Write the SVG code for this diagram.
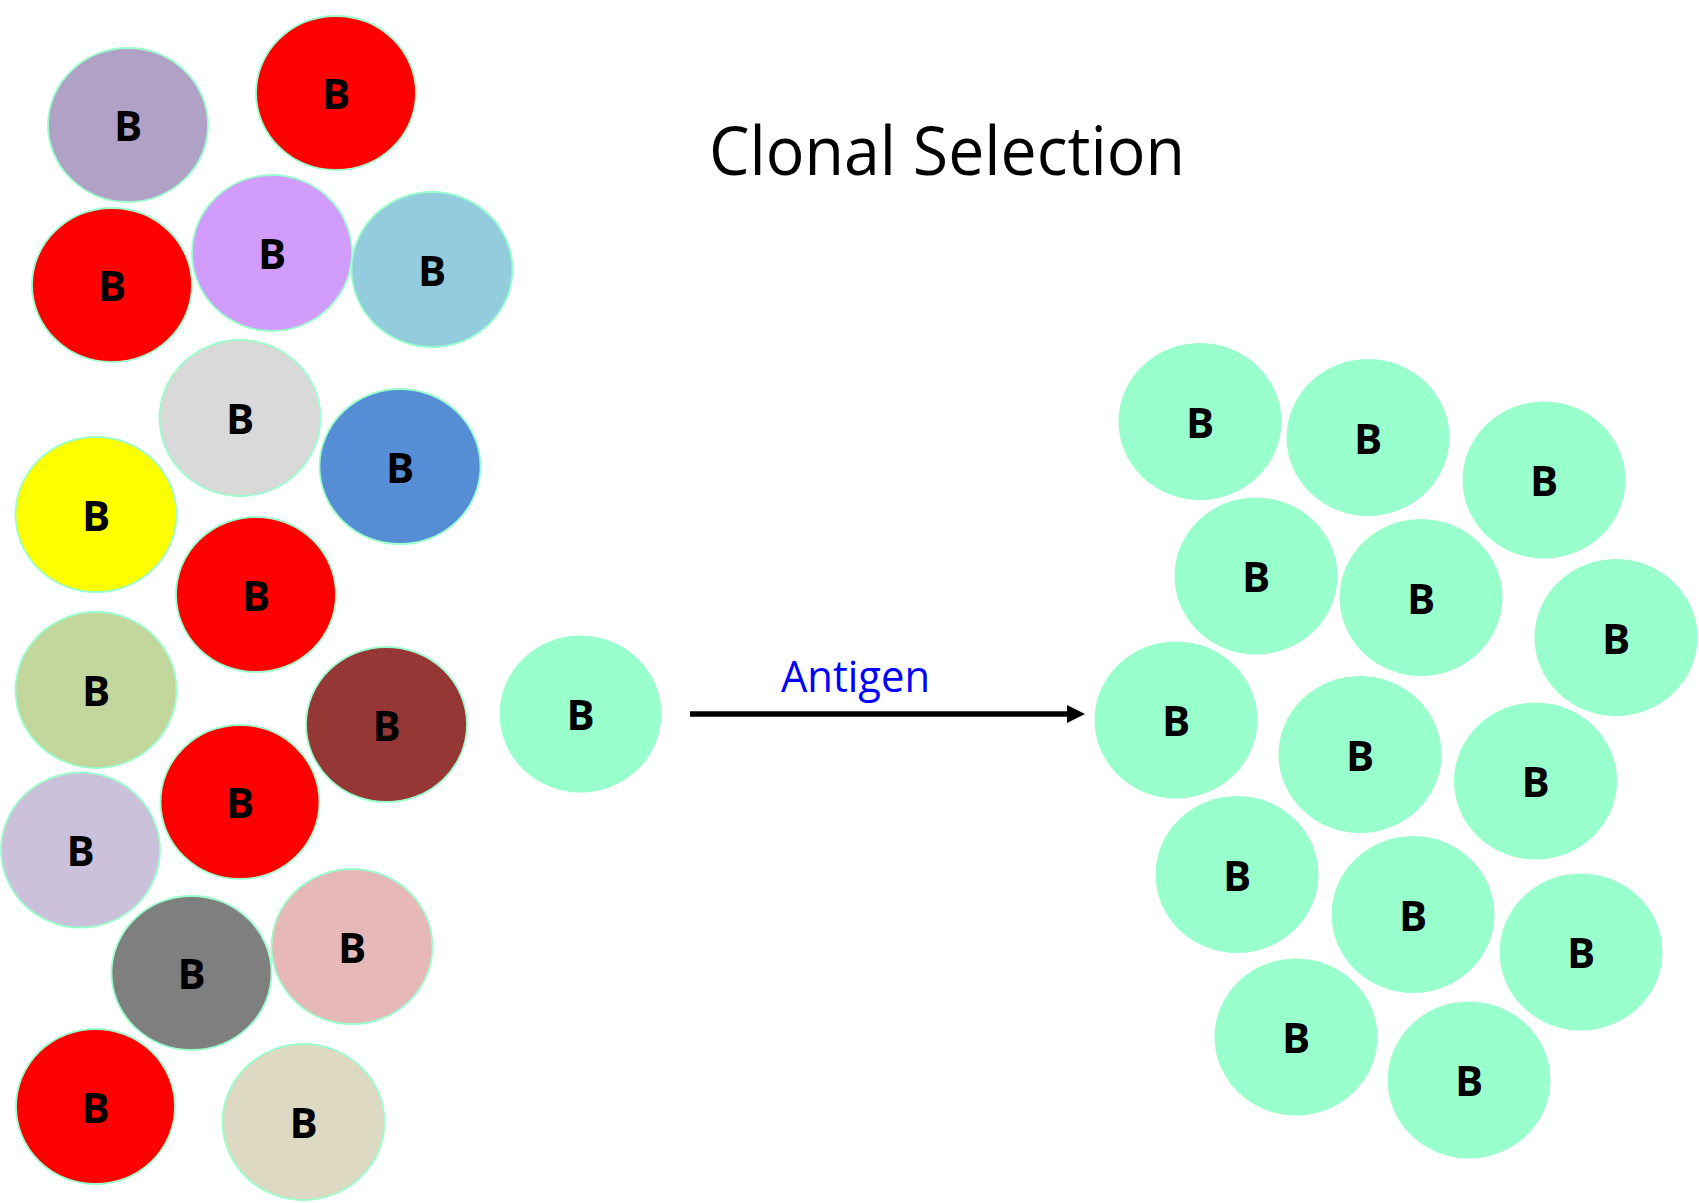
<svg xmlns="http://www.w3.org/2000/svg" width="1699" height="1203" viewBox="0 0 1699 1203">
  <style>
    .cell { stroke: #99FFCC; stroke-width: 1.8; }
    .clone { fill: #99FFCC; }
    .lbl { font-family: "Open Sans", "Noto Sans", "Liberation Sans", sans-serif; font-weight: 700; font-size: 42px; fill: #000000; text-anchor: middle; }
    .title { font-family: "Open Sans", "Noto Sans", "Liberation Sans", sans-serif; font-size: 67px; fill: #000000; }
    .edge-label { font-family: "Open Sans", "Noto Sans", "Liberation Sans", sans-serif; font-size: 43px; fill: #0000FF; }
  </style>
  <defs>
    <marker id="arrowhead" markerUnits="userSpaceOnUse" markerWidth="20" markerHeight="20" refX="0" refY="9" orient="auto">
      <path d="M0,0 L18,9 L0,18 Z" fill="#000000"/>
    </marker>
  </defs>
  <rect width="1699" height="1203" fill="#FFFFFF"/>

  <text class="title" x="709" y="175" textLength="476" lengthAdjust="spacingAndGlyphs">Clonal Selection</text>

  <!-- diverse B cell population -->
  <g id="b-purplegrey"><ellipse class="cell" cx="128" cy="125" rx="80" ry="77" fill="#B2A1C7"/><text class="lbl" x="128" y="141">B</text></g>
  <g id="b-red-1"><ellipse class="cell" cx="336" cy="93" rx="80" ry="77" fill="#FF0000"/><text class="lbl" x="336" y="109">B</text></g>
  <g id="b-red-2"><ellipse class="cell" cx="112" cy="285" rx="80" ry="77" fill="#FF0000"/><text class="lbl" x="112" y="301">B</text></g>
  <g id="b-lavender"><ellipse class="cell" cx="272" cy="253" rx="80" ry="78" fill="#D19CFB"/><text class="lbl" x="272" y="269">B</text></g>
  <g id="b-lightblue"><ellipse class="cell" cx="432" cy="269.5" rx="80.5" ry="77.5" fill="#93CDDD"/><text class="lbl" x="432" y="285.5">B</text></g>
  <g id="b-lightgrey"><ellipse class="cell" cx="240" cy="418" rx="80.5" ry="78" fill="#D9D9D9"/><text class="lbl" x="240" y="434">B</text></g>
  <g id="b-blue"><ellipse class="cell" cx="400" cy="466.5" rx="80.5" ry="77.5" fill="#558ED5"/><text class="lbl" x="400" y="482.5">B</text></g>
  <g id="b-yellow"><ellipse class="cell" cx="96" cy="514.5" rx="80.5" ry="77.5" fill="#FFFF00"/><text class="lbl" x="96" y="530.5">B</text></g>
  <g id="b-red-3"><ellipse class="cell" cx="256" cy="594.5" rx="80" ry="77.5" fill="#FF0000"/><text class="lbl" x="256" y="610.5">B</text></g>
  <g id="b-sage"><ellipse class="cell" cx="96" cy="690" rx="80.5" ry="78" fill="#C3D69B"/><text class="lbl" x="96" y="706">B</text></g>
  <g id="b-brown"><ellipse class="cell" cx="386.5" cy="724.5" rx="80.5" ry="77.5" fill="#953735"/><text class="lbl" x="386.5" y="740.5">B</text></g>
  <g id="b-red-4"><ellipse class="cell" cx="240" cy="802" rx="79.5" ry="77" fill="#FF0000"/><text class="lbl" x="240" y="818">B</text></g>
  <g id="b-lilac"><ellipse class="cell" cx="80.5" cy="850" rx="79.5" ry="77.5" fill="#CCC1DA"/><text class="lbl" x="80.5" y="866">B</text></g>
  <g id="b-darkgrey"><ellipse class="cell" cx="191.5" cy="973" rx="80" ry="77" fill="#7F7F7F"/><text class="lbl" x="191.5" y="989">B</text></g>
  <g id="b-pink"><ellipse class="cell" cx="352" cy="946.5" rx="80.5" ry="77.5" fill="#E6B9B8"/><text class="lbl" x="352" y="962.5">B</text></g>
  <g id="b-red-5"><ellipse class="cell" cx="95.5" cy="1106.5" rx="79.5" ry="77.5" fill="#FF0000"/><text class="lbl" x="95.5" y="1122.5">B</text></g>
  <g id="b-beige"><ellipse class="cell" cx="303.5" cy="1122" rx="81" ry="78" fill="#DDD9C3"/><text class="lbl" x="303.5" y="1138">B</text></g>

  <!-- selected B cell -->
  <g id="b-selected"><ellipse class="clone" cx="580.5" cy="714" rx="81" ry="78.5"/><text class="lbl" x="580.5" y="730">B</text></g>

  <!-- connectors -->
  <g id="connectors">
    <line x1="690" y1="714" x2="1067" y2="714" stroke="#000000" stroke-width="5.5" marker-end="url(#arrowhead)"/>
    <text class="edge-label" x="781" y="692" textLength="149" lengthAdjust="spacingAndGlyphs">Antigen</text>
  </g>

  <!-- clonal expansion -->
  <g id="clone-1"><ellipse class="clone" cx="1200" cy="421.5" rx="81.5" ry="78.5"/><text class="lbl" x="1200" y="437.5">B</text></g>
  <g id="clone-2"><ellipse class="clone" cx="1368" cy="437.5" rx="81.5" ry="78.5"/><text class="lbl" x="1368" y="453.5">B</text></g>
  <g id="clone-3"><ellipse class="clone" cx="1544" cy="480" rx="81.5" ry="78.5"/><text class="lbl" x="1544" y="496">B</text></g>
  <g id="clone-4"><ellipse class="clone" cx="1256" cy="576" rx="81.5" ry="78.5"/><text class="lbl" x="1256" y="592">B</text></g>
  <g id="clone-5"><ellipse class="clone" cx="1421" cy="597.5" rx="81.5" ry="78.5"/><text class="lbl" x="1421" y="613.5">B</text></g>
  <g id="clone-6"><ellipse class="clone" cx="1616" cy="637.5" rx="81.5" ry="78.5"/><text class="lbl" x="1616" y="653.5">B</text></g>
  <g id="clone-7"><ellipse class="clone" cx="1176" cy="720" rx="81.5" ry="78.5"/><text class="lbl" x="1176" y="736">B</text></g>
  <g id="clone-8"><ellipse class="clone" cx="1360" cy="754.5" rx="81.5" ry="78.5"/><text class="lbl" x="1360" y="770.5">B</text></g>
  <g id="clone-9"><ellipse class="clone" cx="1535.5" cy="781" rx="81.5" ry="78.5"/><text class="lbl" x="1535.5" y="797">B</text></g>
  <g id="clone-10"><ellipse class="clone" cx="1237" cy="874.5" rx="81.5" ry="78.5"/><text class="lbl" x="1237" y="890.5">B</text></g>
  <g id="clone-11"><ellipse class="clone" cx="1413" cy="914.5" rx="81.5" ry="78.5"/><text class="lbl" x="1413" y="930.5">B</text></g>
  <g id="clone-12"><ellipse class="clone" cx="1581" cy="952" rx="81.5" ry="78.5"/><text class="lbl" x="1581" y="968">B</text></g>
  <g id="clone-13"><ellipse class="clone" cx="1296" cy="1037" rx="81.5" ry="78.5"/><text class="lbl" x="1296" y="1053">B</text></g>
  <g id="clone-14"><ellipse class="clone" cx="1469" cy="1080" rx="81.5" ry="78.5"/><text class="lbl" x="1469" y="1096">B</text></g>
</svg>
